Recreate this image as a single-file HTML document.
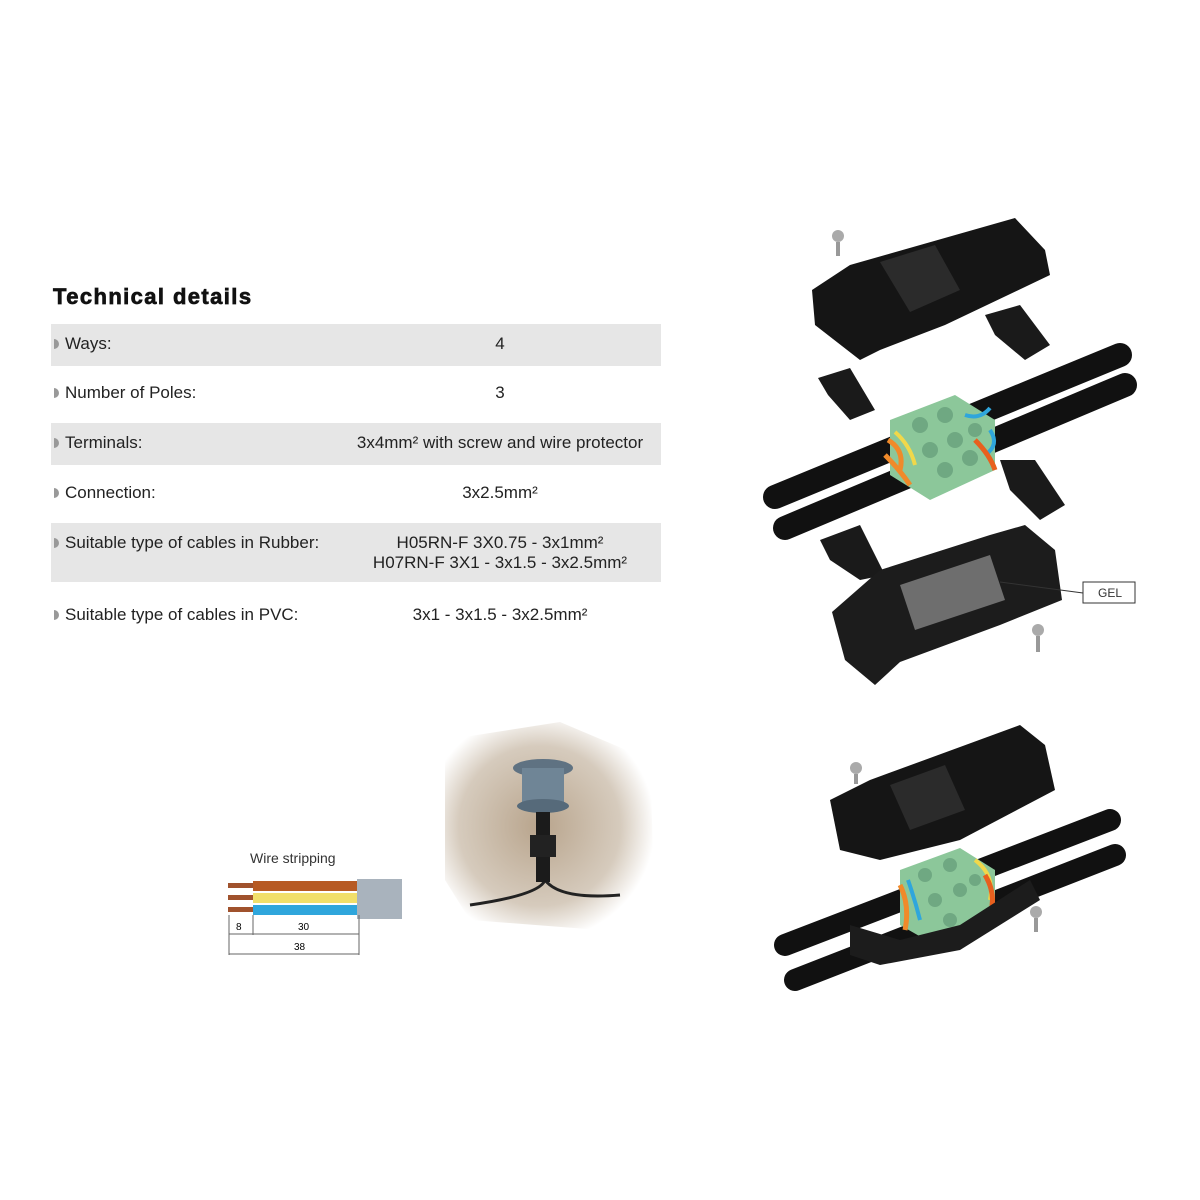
<!DOCTYPE html>
<html><head><meta charset="utf-8"><style>
body{margin:0;width:1200px;height:1200px;background:#fff;position:relative;font-family:"Liberation Sans",sans-serif;color:#222;overflow:hidden}
.h{position:absolute;left:53px;top:284px;font-size:22px;font-weight:bold;color:#111;letter-spacing:1.4px;-webkit-text-stroke:0.7px #111}
.band{position:absolute;left:51px;width:610px;background:#e6e6e6}
.l{position:absolute;left:54px;font-size:17px}
.l:before{content:"";display:inline-block;width:5px;height:10px;background:#999;border-radius:0 5px 5px 0;margin-right:6px}
.v{position:absolute;width:400px;left:300px;text-align:center;font-size:17px}
</style></head><body>
<div class="h">Technical details</div>
<div class="band" style="top:324px;height:42px"></div>
<div class="band" style="top:423px;height:42px"></div>
<div class="band" style="top:523px;height:59px"></div>
<div class="l" style="top:334px">Ways:</div><div class="v" style="top:334px">4</div>
<div class="l" style="top:383px">Number of Poles:</div><div class="v" style="top:383px">3</div>
<div class="l" style="top:433px">Terminals:</div><div class="v" style="top:433px">3x4mm² with screw and wire protector</div>
<div class="l" style="top:483px">Connection:</div><div class="v" style="top:483px">3x2.5mm²</div>
<div class="l" style="top:533px">Suitable type of cables in Rubber:</div><div class="v" style="top:533px;line-height:20px">H05RN-F 3X0.75 - 3x1mm²<br>H07RN-F 3X1 - 3x1.5 - 3x2.5mm²</div>
<div class="l" style="top:605px">Suitable type of cables in PVC:</div><div class="v" style="top:605px">3x1 - 3x1.5 - 3x2.5mm²</div>
<div style="position:absolute;left:250px;top:850px;font-size:14px;color:#333">Wire stripping</div>
<svg width="1200" height="1200" style="position:absolute;left:0;top:0">
<defs>
<radialGradient id="g" cx="0.45" cy="0.5" r="0.55"><stop offset="0" stop-color="#b8a48c"/><stop offset="0.7" stop-color="#d6cbbd"/><stop offset="1" stop-color="#fff"/></radialGradient>
</defs>
<rect x="357" y="879" width="45" height="40" fill="#a9b3bd"/>
<rect x="228" y="883" width="26" height="5" fill="#a0522d"/><rect x="228" y="895" width="26" height="5" fill="#a0522d"/><rect x="228" y="907" width="26" height="5" fill="#a0522d"/>
<rect x="253" y="881" width="104" height="10" fill="#b75a23"/><rect x="253" y="893" width="104" height="10" fill="#f1df6a"/><rect x="253" y="905" width="104" height="10" fill="#2fa6dc"/>
<g stroke="#666" stroke-width="1" fill="none"><path d="M229 915V955M253 915V935M359 915V955M229 934H359M229 954H359"/></g>
<text x="236" y="930" font-size="10" font-family="Liberation Sans">8</text><text x="298" y="930" font-size="10" font-family="Liberation Sans">30</text><text x="294" y="950" font-size="10" font-family="Liberation Sans">38</text>
<polygon points="445,740 560,722 650,760 655,915 600,930 470,920 445,880" fill="url(#g)"/>
<path d="M470 905 Q540 895 545 880 M545 880 Q560 900 620 895" stroke="#222" stroke-width="3" fill="none"/>
<ellipse cx="543" cy="768" rx="30" ry="9" fill="#5f7282"/>
<rect x="522" y="768" width="42" height="38" fill="#6f8596"/>
<ellipse cx="543" cy="806" rx="26" ry="7" fill="#566a7a"/>
<rect x="536" y="812" width="14" height="70" fill="#1b1b1b"/>
<rect x="530" y="835" width="26" height="22" fill="#222"/>
<g stroke-linecap="round">
<line x1="775" y1="497" x2="1120" y2="355" stroke="#111" stroke-width="24"/>
<line x1="785" y1="528" x2="1125" y2="385" stroke="#111" stroke-width="24"/>
</g>
<polygon points="890,420 955,395 995,420 995,470 930,500 890,475" fill="#8cc79a"/>
<g fill="#6fa882"><circle cx="920" cy="425" r="8"/><circle cx="945" cy="415" r="8"/><circle cx="930" cy="450" r="8"/><circle cx="955" cy="440" r="8"/><circle cx="975" cy="430" r="7"/><circle cx="945" cy="470" r="8"/><circle cx="970" cy="458" r="8"/></g>
<path d="M888 440 Q905 450 900 470 M885 455 Q900 470 910 485" stroke="#f08a2a" stroke-width="5" fill="none"/>
<path d="M895 432 Q910 445 915 465" stroke="#f1d84a" stroke-width="4" fill="none"/>
<path d="M965 415 Q980 420 990 408 M990 430 Q1000 445 985 455" stroke="#2fa6dc" stroke-width="4" fill="none"/>
<path d="M975 440 Q990 455 995 470" stroke="#e8601e" stroke-width="5" fill="none"/>
<polygon points="812,290 850,265 1015,218 1045,250 1050,275 945,325 880,350 860,360 815,325" fill="#151515"/>
<polygon points="880,262 935,245 960,290 910,312" fill="#2b2b2b"/>
<circle cx="838" cy="236" r="6" fill="#aaa"/><rect x="836" y="242" width="4" height="14" fill="#999"/>
<polygon points="985,315 1020,305 1050,345 1025,360 995,335" fill="#1a1a1a"/>
<polygon points="818,378 850,368 875,410 850,420 828,395" fill="#1a1a1a"/>
<polygon points="1000,460 1035,460 1065,505 1040,520 1010,490" fill="#1a1a1a"/>
<polygon points="820,540 860,525 885,575 860,580 830,560" fill="#1a1a1a"/>
<polygon points="832,612 880,570 990,535 1025,525 1055,550 1062,600 1000,625 900,662 875,685 845,660" fill="#1c1c1c"/>
<polygon points="900,585 990,555 1005,600 915,630" fill="#6e6e6e"/>
<circle cx="1038" cy="630" r="6" fill="#aaa"/><rect x="1036" y="636" width="4" height="16" fill="#999"/>
<line x1="1000" y1="582" x2="1083" y2="593" stroke="#333" stroke-width="1"/>
<rect x="1083" y="582" width="52" height="21" fill="#fff" stroke="#333"/>
<text x="1098" y="597" font-size="12" font-family="Liberation Sans" fill="#333">GEL</text>
<g stroke-linecap="round">
<line x1="785" y1="945" x2="1110" y2="820" stroke="#111" stroke-width="22"/>
<line x1="795" y1="980" x2="1115" y2="855" stroke="#111" stroke-width="22"/>
</g>
<polygon points="830,800 870,780 1020,725 1045,745 1055,790 960,840 880,860 840,850" fill="#151515"/>
<polygon points="890,785 945,765 965,810 910,830" fill="#2b2b2b"/>
<circle cx="856" cy="768" r="6" fill="#aaa"/><rect x="854" y="774" width="4" height="10" fill="#999"/>
<polygon points="900,870 960,848 995,870 995,920 935,945 900,925" fill="#8cc79a"/>
<g fill="#6fa882"><circle cx="925" cy="875" r="7"/><circle cx="950" cy="865" r="7"/><circle cx="935" cy="900" r="7"/><circle cx="960" cy="890" r="7"/><circle cx="975" cy="880" r="6"/><circle cx="950" cy="920" r="7"/></g>
<path d="M900 885 Q910 905 905 930" stroke="#f08a2a" stroke-width="5" fill="none"/>
<path d="M908 880 Q915 900 920 920" stroke="#2fa6dc" stroke-width="4" fill="none"/>
<path d="M975 860 Q995 875 990 900" stroke="#f1d84a" stroke-width="4" fill="none"/>
<path d="M985 875 Q1000 900 985 925" stroke="#e8601e" stroke-width="5" fill="none"/>
<polygon points="850,925 900,940 960,925 1030,880 1040,900 960,950 880,965 850,955" fill="#1c1c1c"/>
<circle cx="1036" cy="912" r="6" fill="#aaa"/><rect x="1034" y="918" width="4" height="14" fill="#999"/>
</svg>
</body></html>
